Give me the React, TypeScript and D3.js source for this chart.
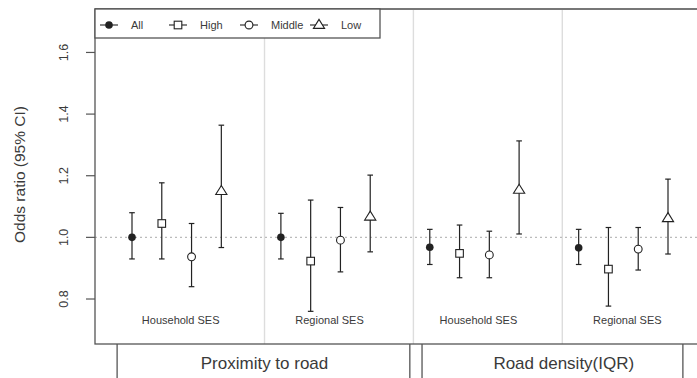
import React from 'react';
import * as d3 from 'd3';

// values
const series = ['All', 'High', 'Middle', 'Low'];
const panels = ['Household SES', 'Regional SES', 'Household SES', 'Regional SES'];
const exposures = ['Proximity to road', 'Road density(IQR)'];
const estimates = [
  [1.0, 1.045, 0.937, 1.15],
  [1.0, 0.923, 0.991, 1.067],
  [0.968, 0.948, 0.943, 1.154],
  [0.966, 0.897, 0.962, 1.062],
];
const lower = [
  [0.93, 0.93, 0.84, 0.967],
  [0.93, 0.76, 0.888, 0.953],
  [0.912, 0.869, 0.869, 1.011],
  [0.912, 0.777, 0.894, 0.946],
];
const upper = [
  [1.08, 1.177, 1.045, 1.364],
  [1.078, 1.121, 1.097, 1.202],
  [1.026, 1.04, 1.02, 1.313],
  [1.026, 1.032, 1.032, 1.189],
];
const yTicks = [0.8, 1.0, 1.2, 1.4, 1.6];

const W = 697;
const H = 378;
const font = '"Liberation Sans", Arial, sans-serif';
const ink = '#222';
const textCol = '#3a3a3a';

const plot = { left: 95, right: 730, top: 9, bottom: 344 };

const x = d3.scaleLinear().domain([0, 18]).range([132, 668]);
const y = d3.scaleLinear().domain([0.654, 1.741]).range([plot.bottom, plot.top]);

const pos = (g: number, i: number) => g * 5 + i;

const Marker = ({ type, cx, cy }: { type: string; cx: number; cy: number }) => {
  if (type === 'All') return <circle cx={cx} cy={cy} r={3.8} fill={ink} />;
  if (type === 'High')
    return <rect x={cx - 3.8} y={cy - 3.8} width={7.6} height={7.6} fill="white" stroke={ink} strokeWidth={1.1} />;
  if (type === 'Middle') return <circle cx={cx} cy={cy} r={3.9} fill="white" stroke={ink} strokeWidth={1.1} />;
  const s = 5.6;
  const pts = [
    [cx, cy - s],
    [cx - s, cy + s * 0.6],
    [cx + s, cy + s * 0.6],
  ];
  return <polygon points={pts.map(p => p.join(',')).join(' ')} fill="white" stroke={ink} strokeWidth={1.1} />;
};

const legendX = [131, 200, 271, 341];

export default function App() {
  const strips = [
    { x0: x(-0.5), x1: x(9.33), tx: x(4.45) },
    { x0: x(9.74), x1: x(18.5), tx: x(14.5) },
  ];
  return (
    <svg width={W} height={H} style={{ position: 'absolute', left: 0, top: 0, background: 'white' }} fontFamily={font}>
      {/* panel separators */}
      {[1, 2, 3].map(g => (
        <line key={g} x1={x(g * 5 - 0.55)} x2={x(g * 5 - 0.55)} y1={plot.top} y2={plot.bottom} stroke="#ddd" strokeWidth={1.4} />
      ))}
      {/* reference line at 1 */}
      <line x1={plot.left} x2={plot.right} y1={y(1)} y2={y(1)} stroke="#bbb" strokeWidth={1.2} strokeDasharray="2,3" />

      {/* error bars and points */}
      {panels.map((p, g) =>
        series.map((s, i) => {
          const cx = x(pos(g, i));
          return (
            <g key={`${g}-${i}`}>
              <line x1={cx} x2={cx} y1={y(lower[g][i])} y2={y(upper[g][i])} stroke={ink} strokeWidth={1.2} />
              <line x1={cx - 2.8} x2={cx + 2.8} y1={y(lower[g][i])} y2={y(lower[g][i])} stroke={ink} strokeWidth={1.2} />
              <line x1={cx - 2.8} x2={cx + 2.8} y1={y(upper[g][i])} y2={y(upper[g][i])} stroke={ink} strokeWidth={1.2} />
              <Marker type={s} cx={cx} cy={y(estimates[g][i])} />
            </g>
          );
        })
      )}

      {/* panel labels */}
      {panels.map((p, g) => (
        <text key={g} x={x(pos(g, 2) - 0.5) + 4} y={324} textAnchor="middle" fontSize={11} fill={textCol}>
          {p}
        </text>
      ))}

      {/* plot frame */}
      <rect x={plot.left} y={plot.top} width={plot.right - plot.left} height={plot.bottom - plot.top} fill="none" stroke="#555" strokeWidth={1.3} />
      <line x1={plot.left} x2={plot.right} y1={plot.top} y2={plot.top} stroke="#777" strokeWidth={2} />

      {/* y axis */}
      {yTicks.map(t => (
        <g key={t}>
          <line x1={plot.left - 9} x2={plot.left} y1={y(t)} y2={y(t)} stroke="#555" strokeWidth={1.2} />
          <text transform={`translate(${68},${y(t)}) rotate(-90)`} textAnchor="middle" fontSize={12.5} fill={textCol}>
            {d3.format('.1f')(t)}
          </text>
        </g>
      ))}
      <text transform={`translate(${25},${(plot.top + plot.bottom) / 2 - 2}) rotate(-90)`} textAnchor="middle" fontSize={15.5} fill={textCol}>
        Odds ratio (95% CI)
      </text>

      {/* legend */}
      <rect x={plot.left} y={plot.top} width={285} height={29} fill="white" stroke="#555" strokeWidth={1.3} />
      {series.map((s, i) => {
        const mx = legendX[i] - 22;
        return (
          <g key={s}>
            <line x1={mx - 9} x2={mx + 9} y1={25} y2={25} stroke={ink} strokeWidth={1.1} />
            <Marker type={s} cx={mx} cy={25} />
            <text x={legendX[i]} y={29} fontSize={11} fill={textCol}>
              {s}
            </text>
          </g>
        );
      })}

      {/* bottom strips */}
      {exposures.map((e, k) => (
        <g key={e}>
          <line x1={strips[k].x0} x2={strips[k].x0} y1={plot.bottom} y2={H} stroke="#555" strokeWidth={1.3} />
          <line x1={strips[k].x1} x2={strips[k].x1} y1={plot.bottom} y2={H} stroke="#555" strokeWidth={1.3} />
          <text x={strips[k].tx} y={369} textAnchor="middle" fontSize={17} fill={textCol}>
            {e}
          </text>
        </g>
      ))}
    </svg>
  );
}
